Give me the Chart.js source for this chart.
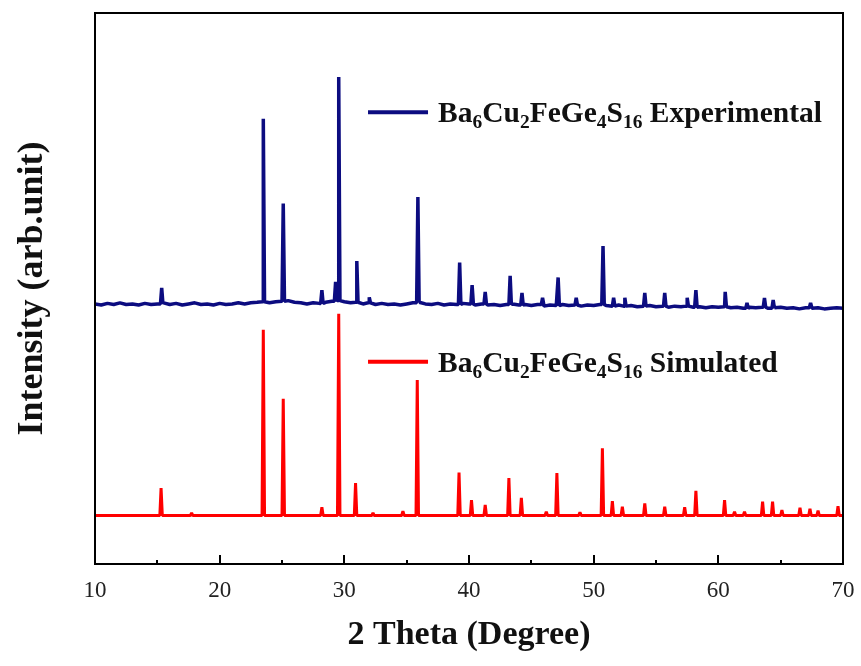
<!DOCTYPE html>
<html>
<head>
<meta charset="utf-8">
<script src="https://cdn.jsdelivr.net/npm/chart.js@4.4.0/dist/chart.umd.min.js"></script>
<style>
  html, body { margin: 0; padding: 0; background: #fff; }
  #wrap { width: 861px; height: 666px; }
</style>
</head>
<body>
<div id="wrap"><canvas id="xrd"></canvas></div>
<script>
// axis range and tick marks (2 theta, degrees)
const X_MIN = 10, X_MAX = 70;
const MAJOR_TICKS = [10, 20, 30, 40, 50, 60, 70];
const MINOR_TICKS = [15, 25, 35, 45, 55, 65];

// experimental pattern: background read every 0.5 deg, then the peaks
const expBgPos = [10, 10.5, 11, 11.5, 12, 12.5, 13, 13.5, 14, 14.5, 15, 15.5, 16, 16.5, 17, 17.5, 18, 18.5, 19, 19.5,
  20, 20.5, 21, 21.5, 22, 22.5, 23, 23.5, 24, 24.5, 25, 25.5, 26, 26.5, 27, 27.5, 28, 28.5, 29, 29.5,
  30, 30.5, 31, 31.5, 32, 32.5, 33, 33.5, 34, 34.5, 35, 35.5, 36, 36.5, 37, 37.5, 38, 38.5, 39, 39.5,
  40, 40.5, 41, 41.5, 42, 42.5, 43, 43.5, 44, 44.5, 45, 45.5, 46, 46.5, 47, 47.5, 48, 48.5, 49, 49.5,
  50, 50.5, 51, 51.5, 52, 52.5, 53, 53.5, 54, 54.5, 55, 55.5, 56, 56.5, 57, 57.5, 58, 58.5, 59, 59.5,
  60, 60.5, 61, 61.5, 62, 62.5, 63, 63.5, 64, 64.5, 65, 65.5, 66, 66.5, 67, 67.5, 68, 68.5, 69, 69.5, 70];
const expBgVal = [472, 470, 473, 471, 474, 471, 472, 470, 473, 471, 472, 474, 471, 473, 470, 472, 474, 471, 472, 470,
  473, 471, 472, 474, 472, 474, 475, 476, 474, 476, 477, 478, 475, 474, 472, 474, 473, 475, 477, 478,
  476, 474, 475, 472, 474, 471, 473, 471, 472, 470, 472, 474, 475, 472, 471, 473, 470, 472, 471, 473,
  472, 470, 472, 470, 471, 469, 471, 472, 470, 471, 469, 471, 468, 470, 469, 471, 469, 470, 468, 470,
  469, 471, 469, 468, 470, 468, 469, 467, 468, 469, 467, 468, 466, 468, 467, 468, 466, 467, 465, 467,
  466, 467, 465, 466, 464, 466, 465, 466, 464, 465, 466, 464, 465, 463, 465, 464, 465, 463, 464, 465, 464];
const expPeakPos = [15.35, 23.5, 25.1, 28.2, 29.3, 29.55, 31.0, 32.0, 35.9, 39.25,
  40.25, 41.3, 43.3, 44.25, 45.9, 47.15, 48.6, 50.75, 51.6, 52.5,
  54.1, 55.7, 57.5, 58.2, 60.55, 62.3, 63.7, 64.4, 67.4];
const expPeakVal = [501, 808, 654, 497, 512, 884, 550, 484, 666, 547,
  506, 494, 523, 492, 483, 520, 483, 577, 483, 483,
  492, 492, 483, 497, 494, 474, 483, 479, 474];

// simulated pattern: flat background, then the peaks
const simBgPos = [10, 70];
const simBgVal = [88, 88];
const simPeakPos = [15.3, 17.75, 23.5, 25.1, 28.2, 29.55, 30.9, 32.3, 34.7, 35.85,
  39.2, 40.2, 41.3, 43.2, 44.2, 46.2, 47.05, 48.9, 50.7, 51.5,
  52.3, 54.1, 55.7, 57.3, 58.2, 60.5, 61.3, 62.1, 63.55, 64.35,
  65.1, 66.55, 67.35, 68.0, 69.6];
const simPeakVal = [138, 93, 425, 300, 103, 454, 147, 93, 96, 334,
  166, 116, 107, 156, 120, 95, 165, 94, 210, 114,
  104, 110, 104, 103, 133, 116, 95, 95, 113, 113,
  98, 102, 100, 97, 105];

const EXP_COLOR = '#0c0c80';
const SIM_COLOR = '#ff0000';
const SERIF = '"Liberation Serif", "Times New Roman", serif';

// legend text split into normal / subscript runs
const expLabel = [['Ba', 0], ['6', 1], ['Cu', 0], ['2', 1], ['FeGe', 0], ['4', 1], ['S', 0], ['16', 1], [' Experimental', 0]];
const simLabel = [['Ba', 0], ['6', 1], ['Cu', 0], ['2', 1], ['FeGe', 0], ['4', 1], ['S', 0], ['16', 1], [' Simulated', 0]];

// background points + a narrow spike for every peak
function buildPattern(bgPos, bgVal, peakPos, peakVal, halfWidth) {
    const pts = bgPos.map((x, i) => ({ x, y: bgVal[i], bg: true }));
    peakPos.forEach((p, i) => pts.push({ x: p, y: peakVal[i], bg: false }));
    pts.sort((a, b) => a.x - b.x);

    const out = [];
    let base = bgVal[0];
    pts.forEach(pt => {
        if (pt.bg) {
            base = pt.y;
            out.push({ x: pt.x, y: pt.y });
            return;
        }
        out.push({ x: pt.x - halfWidth, y: base });
        out.push({ x: pt.x, y: pt.y });
        out.push({ x: pt.x + halfWidth, y: base });
    });
    // keep the line going left to right
    return out.sort((a, b) => a.x - b.x);
}

// frame, inward ticks and the in-plot legend
const framePlugin = {
    id: 'frame',
    afterDraw(chart) {
        const { ctx, chartArea: a, scales } = chart;
        ctx.save();
        ctx.strokeStyle = '#000';
        ctx.lineWidth = 2;
        ctx.strokeRect(a.left, a.top, a.right - a.left, a.bottom - a.top);

        const tick = (v, len) => {
            const px = Math.round(scales.x.getPixelForValue(v));
            ctx.beginPath();
            ctx.moveTo(px, a.bottom);
            ctx.lineTo(px, a.bottom - len);
            ctx.stroke();
        };
        MAJOR_TICKS.forEach(v => tick(v, 9));
        MINOR_TICKS.forEach(v => tick(v, 4));

        const drawEntry = (label, color, fy) => {
            const w = a.right - a.left, h = a.bottom - a.top;
            const x0 = a.left + 0.365 * w;
            const y = a.top + fy * h;
            ctx.strokeStyle = color;
            ctx.lineWidth = 4;
            ctx.beginPath();
            ctx.moveTo(x0, y);
            ctx.lineTo(x0 + 60, y);
            ctx.stroke();

            let x = x0 + 70;
            ctx.fillStyle = '#111';
            ctx.textBaseline = 'alphabetic';
            label.forEach(([txt, sub]) => {
                ctx.font = sub ? `bold 19.5px ${SERIF}` : `bold 29.5px ${SERIF}`;
                ctx.fillText(txt, x, y + (sub ? 16 : 10));
                x += ctx.measureText(txt).width;
            });
        };
        drawEntry(expLabel, EXP_COLOR, 0.18);
        drawEntry(simLabel, SIM_COLOR, 0.633);
        ctx.restore();
    }
};

const ctx = document.getElementById('xrd').getContext('2d');
new Chart(ctx, {
    type: 'line',
    data: {
        datasets: [
            {
                label: 'Simulated',
                data: buildPattern(simBgPos, simBgVal, simPeakPos, simPeakVal, 0.1),
                borderColor: SIM_COLOR,
                borderWidth: 3,
                borderJoinStyle: 'bevel',
                pointRadius: 0,
                tension: 0
            },
            {
                label: 'Experimental',
                data: buildPattern(expBgPos, expBgVal, expPeakPos, expPeakVal, 0.1),
                borderColor: EXP_COLOR,
                borderWidth: 3.5,
                borderJoinStyle: 'bevel',
                pointRadius: 0,
                tension: 0
            }
        ]
    },
    options: {
        responsive: true,
        maintainAspectRatio: false,
        animation: false,
        events: [],
        layout: { padding: { left: 10, right: 18, top: 13, bottom: 8 } },
        plugins: { legend: { display: false }, tooltip: { enabled: false } },
        scales: {
            x: {
                type: 'linear',
                min: X_MIN,
                max: X_MAX,
                afterFit: s => { s.height = 94; s.paddingLeft = 0; s.paddingRight = 0; },
                afterBuildTicks: s => { s.ticks = MAJOR_TICKS.map(v => ({ value: v })); },
                ticks: { font: { family: SERIF, size: 23 }, color: '#222', padding: 13 },
                grid: { drawOnChartArea: false, drawTicks: false },
                border: { display: false },
                title: {
                    display: true,
                    text: '2 Theta (Degree)',
                    color: '#111',
                    font: { family: SERIF, size: 34, weight: 'bold' },
                    padding: { top: 0, bottom: 2 }
                }
            },
            y: {
                min: 0,
                max: 1000,
                afterFit: s => { s.width = 85; },
                ticks: { display: false },
                grid: { display: false },
                border: { display: false },
                title: {
                    display: true,
                    text: 'Intensity (arb.unit)',
                    color: '#111',
                    font: { family: SERIF, size: 36, weight: 'bold' },
                    padding: 1
                }
            }
        }
    },
    plugins: [framePlugin]
});
</script>
</body>
</html>
